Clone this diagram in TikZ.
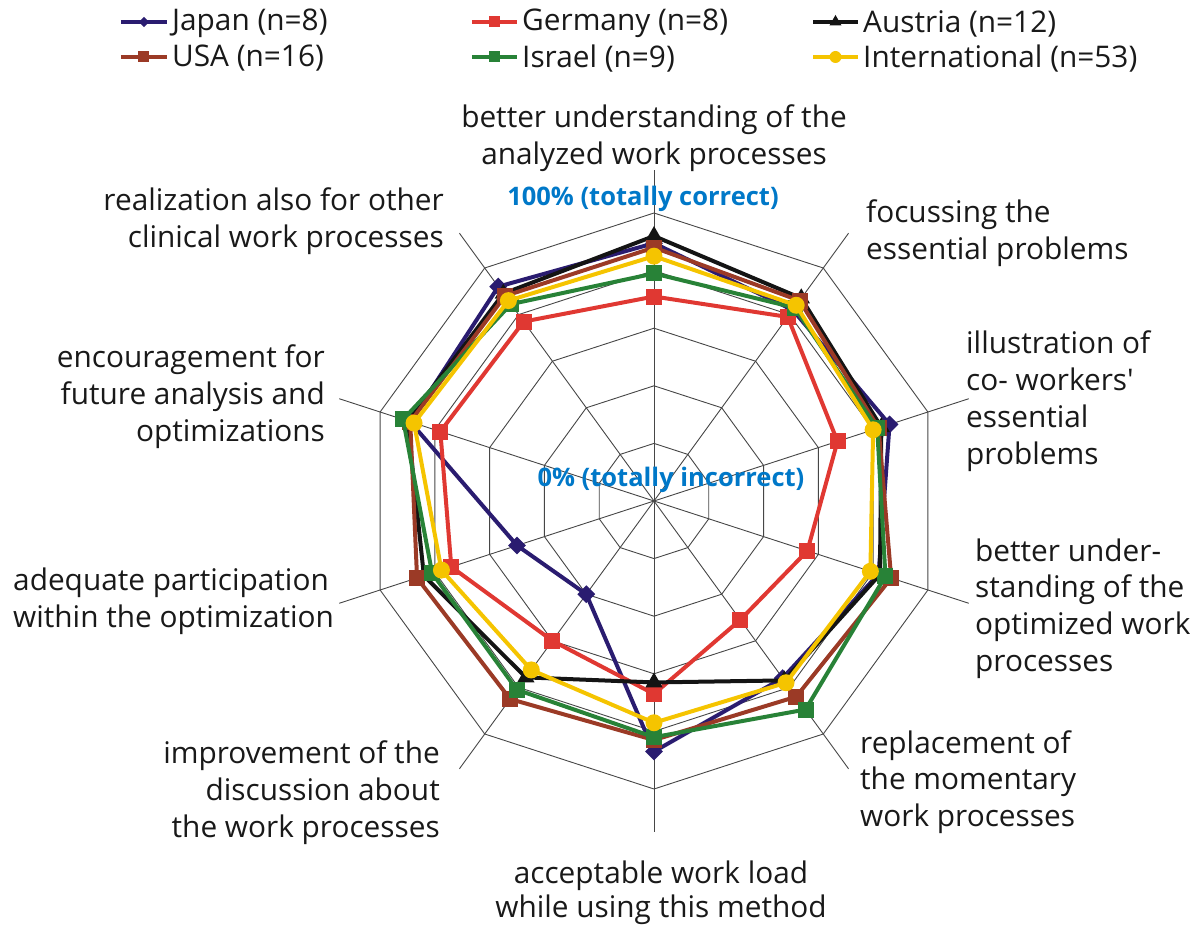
\documentclass[tikz,border=0pt]{standalone}
\usepackage{fontspec}
\setmainfont{Open Sans}[Ligatures=TeXOff]
\usetikzlibrary{shapes.geometric}
\definecolor{cJapan}{RGB}{42,28,112}
\definecolor{cGermany}{RGB}{224,56,50}
\definecolor{cAustria}{RGB}{20,20,20}
\definecolor{cUSA}{RGB}{155,58,38}
\definecolor{cIsrael}{RGB}{40,130,55}
\definecolor{cIntl}{RGB}{245,196,0}
\definecolor{cBlue}{RGB}{0,120,200}
\definecolor{cText}{RGB}{25,25,25}
\definecolor{cGrid}{RGB}{70,70,70}
\newcommand\drawseries[4]{%
  \foreach \v [count=\i from 0] in {#4} {\coordinate (#1\i) at ({90-36*\i}:{2.88*\v});}
  \draw[serline,#2] (#10) -- (#11) -- (#12) -- (#13) -- (#14) -- (#15) -- (#16) -- (#17) -- (#18) -- (#19) -- cycle;
  \foreach \i in {0,...,9} {\node[#3,fill=#2] (#1m\i) at (#1\i) {};}
}
\begin{document}
\begin{tikzpicture}[x=1pt,y=1pt,
  gridline/.style={draw=cGrid,line width=0.9pt},
  serline/.style={line width=4pt,line join=round},
  diam/.style={diamond,draw=none,inner sep=0pt,minimum width=18pt,minimum height=18pt},
  sq/.style={rectangle,draw=none,inner sep=0pt,minimum size=16pt},
  tri/.style={regular polygon,regular polygon sides=3,draw=none,inner sep=0pt,minimum size=20pt},
  circ/.style={circle,draw=none,inner sep=0pt,minimum size=17pt},
  ldiam/.style={diam,minimum width=12pt,minimum height=12pt},
  lsq/.style={sq,minimum size=11pt},
  ltri/.style={tri,minimum size=14pt},
  lcirc/.style={circ,minimum size=12pt},
  lab/.style={font=\fontsize{29.8}{36.8}\selectfont,text=cText,inner sep=0pt},
  leg/.style={font=\fontsize{29.8}{36.8}\selectfont,text=cText,inner sep=0pt,anchor=west},
  blue/.style={font=\fontsize{25.5}{30}\selectfont\bfseries,text=cBlue,inner sep=0pt}
]
\useasboundingbox (-654,-428) rectangle (543,501);
% grid
\coordinate (ctr) at (0,0);
\foreach \k in {1,...,5} {
  \draw[gridline] (90:{57.6*\k}) \foreach \j in {1,...,9} { -- ({90-36*\j}:{57.6*\k}) } -- cycle;
}
\foreach \j in {0,...,9} {
  \coordinate (ax\j) at ({90-36*\j}:331);
  \draw[gridline] (ctr) -- (ax\j);
}
% data series
\drawseries{jp}{cJapan}{diam}{89.5,82,86,82,76,87,40,50,89,92}
\drawseries{de}{cGermany}{sq}{71,79,67,56,51,67,60,74,78,77}
\drawseries{at}{cAustria}{tri}{92,87,83,82.5,77,63,75.7,84,90,89}
\drawseries{us}{cUSA}{sq}{88,86,82,86.6,84,83,85,86.5,89,88}
\drawseries{il}{cIsrael}{sq}{79,83,81.5,84.5,89.5,82,81,81,91.6,84.5}
\drawseries{in}{cIntl}{circ}{85,84,80,79,78,77,72.5,77.6,87.6,86}
% blue scale labels
\node[blue] (top) at (-11,302) {100\% (totally correct)};
\node[blue] (bot) at (17,21) {0\% (totally incorrect)};
% category labels
\node[lab,align=center] (l0) at (0,362.5) {better understanding of the\\analyzed work processes};
\node[lab,align=left,anchor=west] (l1) at (212,267.5) {focussing the\\essential problems};
\node[lab,align=left,anchor=west] (l2) at (312,100) {illustration of\\co- workers'\\essential\\problems};
\node[lab,align=left,anchor=west] (l3) at (321,-107.5) {better under-\\standing of the\\optimized work\\processes};
\node[lab,align=left,anchor=west] (l4) at (206,-281) {replacement of\\the momentary\\work processes};
\node[lab,align=center,font=\fontsize{29.8}{34}\selectfont] (l5) at (7,-392) {acceptable work load\\while using this method};
\node[lab,align=right,anchor=east] (l6) at (-214,-291.5) {improvement of the\\discussion about\\the work processes};
\node[lab,align=left,anchor=west] (l7) at (-641,-100.5) {adequate participation\\within the optimization};
\node[lab,align=right,anchor=east] (l8) at (-329,104.5) {encouragement for\\future analysis and\\optimizations};
\node[lab,align=right,anchor=east] (l9) at (-210,280) {realization also for other\\clinical work processes};
% legend
\coordinate (g1a) at (-533,479); \coordinate (g1b) at (-487,479);
\coordinate (g2a) at (-182,479); \coordinate (g2b) at (-137,479);
\coordinate (g3a) at (159,479);  \coordinate (g3b) at (204,479);
\coordinate (g4a) at (-533,444); \coordinate (g4b) at (-487,444);
\coordinate (g5a) at (-182,444); \coordinate (g5b) at (-137,444);
\coordinate (g6a) at (159,444);  \coordinate (g6b) at (204,444);
\draw[serline,cJapan] (g1a) -- (g1b) node[ldiam,fill=cJapan,midway] (k1) {};
\draw[serline,cGermany] (g2a) -- (g2b) node[lsq,fill=cGermany,midway] (k2) {};
\draw[serline,cAustria] (g3a) -- (g3b) node[ltri,fill=cAustria,midway] (k3) {};
\draw[serline,cUSA] (g4a) -- (g4b) node[lsq,fill=cUSA,midway] (k4) {};
\draw[serline,cIsrael] (g5a) -- (g5b) node[lsq,fill=cIsrael,midway] (k5) {};
\draw[serline,cIntl] (g6a) -- (g6b) node[lcirc,fill=cIntl,midway] (k6) {};
\node[leg] (t1) at ([xshift=5pt,yshift=-1.5pt]g1b) {Japan (n=8)};
\node[leg] (t2) at ([xshift=5pt,yshift=-1.5pt]g2b) {Germany (n=8)};
\node[leg] (t3) at ([xshift=5pt,yshift=-1.5pt]g3b) {Austria (n=12)};
\node[leg] (t4) at ([xshift=5pt,yshift=-1.5pt]g4b) {USA (n=16)};
\node[leg] (t5) at ([xshift=5pt,yshift=-1.5pt]g5b) {Israel (n=9)};
\node[leg] (t6) at ([xshift=5pt,yshift=-1.5pt]g6b) {International (n=53)};
\end{tikzpicture}
\end{document}
